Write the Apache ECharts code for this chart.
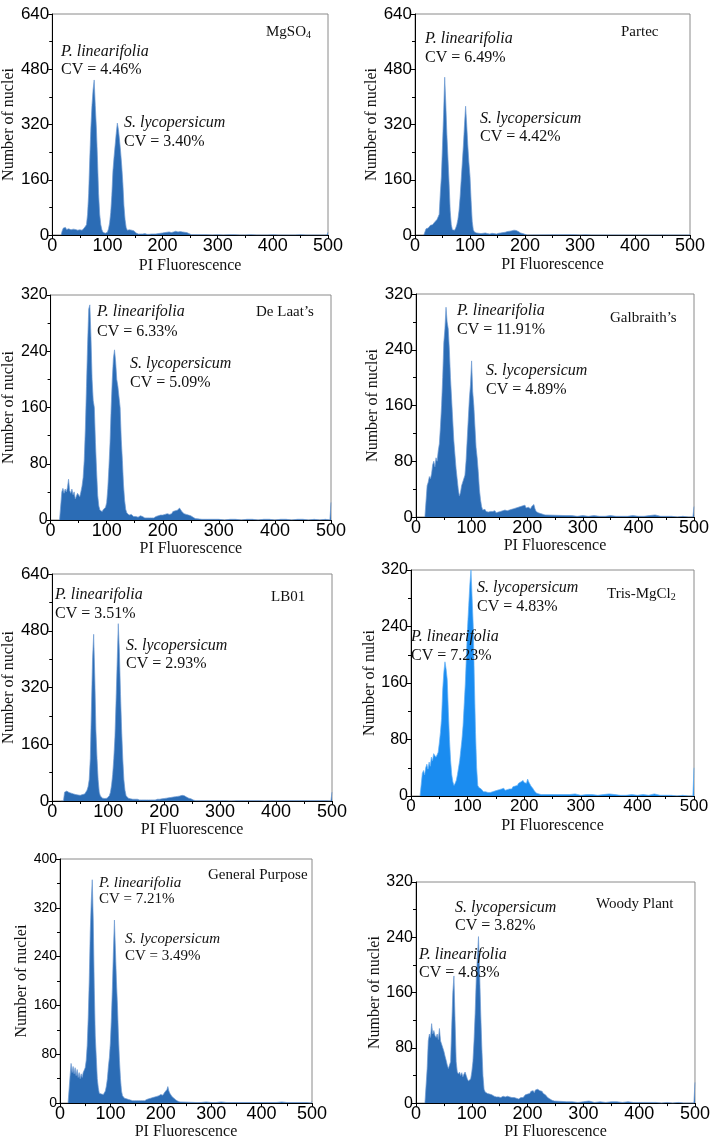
<!DOCTYPE html>
<html><head><meta charset="utf-8">
<script src="https://cdn.jsdelivr.net/npm/echarts@6/dist/echarts.min.js"></script>
<style>html,body{margin:0;padding:0;background:#fff}#c{width:713px;height:1141px}</style>
</head><body><div id="c"></div><script>
// ---- data: PI fluorescence channels ----
const channelStart = 16, channelStep = 2;
const tailChannels = [270,280,290,300,310,320,330,340,350,360,370,380,390,400,410,420,430,440,450,460,470,480,490,498,500];
const xTicks = [0,100,200,300,400,500];

const mgso4Counts = [0,12,20,18,22,16,20,18,21,15,19,17,20,16,18,14,17,15,19,14,18,20,22,30,60,120,220,310,375,420,449,375,310,220,120,60,30,15,8,6,5,6,8,18,35,65,115,185,225,260,295,324,305,275,240,200,150,85,45,22,14,13,15,15,14,16,12,10,6,4,3,4,3,2,3,2,4,3,2,3,2,4,3,5,3,4,3,5,4,6,5,4,6,5,7,6,8,7,9,8,7,10,9,8,11,10,9,12,10,11,9,10,8,9,7,6,4,2,1,0];
const mgso4Tail = [1,1,0,1,0,1,1,0,0,1,0,0,0,1,0,0,0,0,1,0,0,0,0,0,8];

const partecCounts = [0,0,18,22,20,25,28,26,30,33,38,42,45,52,60,120,170,260,350,457,380,290,220,150,70,30,15,12,14,20,30,45,70,110,160,210,260,320,373,320,260,210,170,100,40,15,9,9,6,7,5,6,4,6,5,4,6,5,4,5,3,4,5,3,4,5,3,4,5,4,6,5,7,6,8,7,10,8,11,9,12,10,14,11,13,9,10,7,6,5,4,3,2,1,0];
const partecTail = [1,1,1,0,1,0,0,0,0,0,0,0,0,0,0,0,0,0,0,0,0,0,0,0,2];

const delaatCounts = [0,0,40,45,38,44,40,46,58,42,38,44,36,40,30,34,38,36,33,40,48,60,85,130,190,250,300,306,260,200,170,160,110,70,35,20,14,13,12,15,14,18,25,45,75,110,160,200,230,242,225,200,190,175,160,115,85,50,28,15,10,8,7,6,8,6,5,7,5,6,4,5,6,4,5,4,3,4,3,4,3,4,3,4,3,4,5,4,6,5,7,8,7,9,8,10,9,11,8,10,9,12,10,13,11,14,12,17,15,12,10,9,11,8,10,7,8,6,5,4,3,2,2];
const delaatTail = [1,1,1,1,0,1,1,0,1,1,0,1,1,0,1,1,0,1,1,0,1,0,1,0,25];

const galbraithCounts = [0,0,45,50,58,55,62,75,80,72,85,80,95,105,130,160,200,250,270,301,280,270,240,200,170,140,110,90,70,55,40,30,35,45,50,52,60,80,110,140,170,190,224,180,160,130,100,85,65,40,25,15,10,9,11,8,10,7,9,8,6,8,7,9,6,8,7,9,8,10,9,11,10,12,9,11,10,12,11,9,12,10,13,11,14,12,15,13,16,14,17,13,15,14,16,12,15,13,18,12,8,7,6,5,5,4,4,3,3,2];
const galbraithTail = [2,2,1,2,1,2,1,1,2,1,1,1,2,1,1,2,3,1,1,1,0,1,0,0,15];

const lb01Counts = [0,0,0,25,30,28,26,24,27,22,25,20,23,18,22,17,21,16,20,18,22,20,25,30,40,60,120,260,400,470,350,200,120,60,25,14,10,8,9,7,10,8,12,15,25,45,75,120,180,280,390,500,420,300,200,120,60,30,15,10,8,7,6,7,5,6,5,4,5,4,3,4,3,4,3,4,3,4,3,4,3,4,3,4,3,4,5,4,5,4,6,5,7,6,8,7,9,8,10,9,11,10,12,11,13,12,14,13,16,14,15,13,11,10,8,7,6,4,3,2,1];
const lb01Tail = [1,1,1,1,1,0,1,1,1,1,1,0,1,1,1,1,1,1,1,1,1,1,1,0,25];

const trisCounts = [0,0,32,36,30,40,45,38,48,42,55,50,60,62,55,58,62,75,90,110,150,175,190,180,165,120,80,50,30,20,15,18,22,30,40,50,65,80,100,130,160,200,240,270,300,320,280,240,160,90,40,15,12,14,10,8,6,5,6,4,5,6,5,7,6,8,7,9,8,10,9,8,10,9,11,8,10,9,11,10,12,10,13,12,14,16,15,18,17,20,18,22,19,21,18,24,20,17,14,12,10,7,5,4,3,3,2,2];
const trisTail = [2,2,3,1,2,2,1,2,3,2,1,1,2,1,2,1,3,1,1,1,0,1,0,0,40];

const generalCounts = [0,0,45,65,50,60,48,58,45,55,42,50,40,48,42,50,52,58,70,95,140,200,280,330,366,300,190,110,75,40,25,16,18,15,17,14,16,20,28,40,60,75,100,140,190,250,300,250,200,160,110,70,40,20,12,10,8,9,7,8,6,7,5,6,4,5,4,3,4,3,4,3,4,3,4,5,4,5,6,5,7,6,8,7,9,8,10,9,11,10,12,11,14,12,13,16,18,20,22,27,20,16,13,11,9,8,6,5,4,3,2,2,1];
const generalTail = [1,1,2,1,1,2,1,1,1,1,1,1,1,1,1,1,1,2,1,1,1,1,1,0,3];

const woodyCounts = [0,0,50,90,100,95,115,100,105,98,95,100,92,108,90,85,80,75,68,62,55,50,48,60,110,160,184,120,60,45,42,45,40,44,38,42,45,40,35,32,30,35,45,60,90,130,180,210,241,190,130,80,40,20,16,15,14,16,13,14,12,13,10,11,9,10,9,10,8,9,10,8,9,8,10,8,9,7,8,7,8,6,7,8,6,7,8,9,8,10,12,11,13,15,14,17,16,18,15,19,17,20,22,18,16,17,14,13,12,10,8,7,6,5,4,3,3,2];
const woodyTail = [2,2,1,2,3,1,2,1,2,2,1,2,1,1,1,1,1,0,1,0,1,0,0,0,30];

const yMaxes = [640,640,320,320,640,320,400,320];
const yIntervals = [160,160,80,80,160,80,80,80];
const yNames = ['Number of nuclei','Number of nuclei','Number of nuclei','Number of nuclei','Number of nuclei','Number of nulei','Number of nuclei','Number of nuclei'];
const bufferNames = ['MgSO|4','Partec','De Laat\u2019s','Galbraith\u2019s','LB01','Tris-MgCl|2','General Purpose','Woody Plant'];
const species = [
  ['P. linearifolia','CV = 4.46%','S. lycopersicum','CV = 3.40%'],
  ['P. linearifolia','CV = 6.49%','S. lycopersicum','CV = 4.42%'],
  ['P. linearifolia','CV = 6.33%','S. lycopersicum','CV = 5.09%'],
  ['P. linearifolia','CV = 11.91%','S. lycopersicum','CV = 4.89%'],
  ['P. linearifolia','CV = 3.51%','S. lycopersicum','CV = 2.93%'],
  ['P. linearifolia','CV = 7.23%','S. lycopersicum','CV = 4.83%'],
  ['P. linearifolia','CV = 7.21%','S. lycopersicum','CV = 3.49%'],
  ['P. linearifolia','CV = 4.83%','S. lycopersicum','CV = 3.82%']
];
const countSets = [mgso4Counts,partecCounts,delaatCounts,galbraithCounts,lb01Counts,trisCounts,generalCounts,woodyCounts];
const tailSets = [mgso4Tail,partecTail,delaatTail,galbraithTail,lb01Tail,trisTail,generalTail,woodyTail];

// ---- layout (pixels) ----
const grids = [
  {left:49, top:14, width:279, height:221, yFont:17, xFont:18, yGap:29, xGap:23},
  {left:415,top:14, width:275, height:221, yFont:17, xFont:18, yGap:31, xGap:22},
  {left:50, top:295,width:281, height:225, yFont:16, xFont:18, yGap:30, xGap:18},
  {left:416,top:294,width:278, height:223, yFont:17, xFont:18, yGap:30, xGap:17},
  {left:51, top:574,width:281, height:227, yFont:17, xFont:18, yGap:30, xGap:18},
  {left:411,top:570,width:283, height:226, yFont:16, xFont:17, yGap:32, xGap:22},
  {left:60, top:859,width:252, height:249, yFont:14, xFont:18, yGap:27, xGap:15},
  {left:416,top:882,width:279, height:223, yFont:16, xFont:18, yGap:29, xGap:16}
];
const textPos = [
  {p:[61,52,70], s:[124,123,142], b:[266,32], fs:16},
  {p:[425,39,58], s:[480,119,137], b:[621,32], fs:16},
  {p:[97,312,332], s:[130,364,383], b:[256,312], fs:16},
  {p:[457,311,330], s:[486,371,390], b:[610,318], fs:16},
  {p:[55,595,614], s:[126,646,664], b:[271,597], fs:16},
  {p:[411,637,656], s:[477,588,607], b:[607,594], fs:16},
  {p:[99,883,899], s:[125,939,956], b:[208,875], fs:15},
  {p:[419,955,973], s:[455,908,926], b:[596,904], fs:16}
];
const fills = ['#2b6cb5','#2b6cb5','#2b6cb5','#2b6cb5','#2b6cb5','#1a8cf0','#2b6cb5','#2b6cb5'];
const edges = ['#6f9bd3','#6f9bd3','#6f9bd3','#6f9bd3','#6f9bd3','#62b0f6','#6f9bd3','#6f9bd3'];

const SERIF = '"Liberation Serif","Times New Roman",serif';
const SANS = '"Liberation Sans",Arial,sans-serif';

const option = {animation:false, grid:[], xAxis:[], yAxis:[], series:[], graphic:[]};
grids.forEach((g,i)=>{
  option.grid.push({left:g.left, top:g.top, width:g.width, height:g.height, show:true, borderColor:'#8a8a8a', borderWidth:1, backgroundColor:'transparent'});
  option.xAxis.push({type:'value', gridIndex:i, min:xTicks[0], max:xTicks[xTicks.length-1], interval:xTicks[1]-xTicks[0],
    name:'PI Fluorescence', nameLocation:'middle', nameGap:g.xGap,
    nameTextStyle:{fontFamily:SERIF, fontSize:16, color:'#111'},
    axisLine:{show:true, onZero:false, lineStyle:{color:'#000', width:1}},
    axisTick:{show:true, length:4, lineStyle:{color:'#000'}},
    minorTick:{show:true, splitNumber:2, length:3, lineStyle:{color:'#000'}},
    splitLine:{show:false},
    axisLabel:{fontFamily:SANS, fontSize:g.xFont, color:'#000', margin:2}});
  option.yAxis.push({type:'value', gridIndex:i, min:0, max:yMaxes[i], interval:yIntervals[i],
    name:yNames[i], nameLocation:'middle', nameGap:g.yGap,
    nameTextStyle:{fontFamily:SERIF, fontSize:16, color:'#111'},
    axisLine:{show:true, lineStyle:{color:'#000', width:1}},
    axisTick:{show:true, length:4, lineStyle:{color:'#000'}},
    minorTick:{show:true, splitNumber:2, length:3, lineStyle:{color:'#000'}},
    splitLine:{show:false},
    axisLabel:{fontFamily:SANS, fontSize:g.yFont, color:'#000', margin:3}});
  const data = countSets[i].map((v,k)=>[channelStart+channelStep*k, v])
    .concat(tailSets[i].map((v,k)=>[tailChannels[k], v]));
  option.series.push({type:'line', xAxisIndex:i, yAxisIndex:i, data:data, showSymbol:false, symbol:'none',
    silent:true, sampling:null, z:2,
    lineStyle:{color:edges[i], width:0.7}, areaStyle:{color:fills[i], opacity:1}});

  const t = textPos[i], fs = t.fs, sp = species[i];
  const mk = (x,y,text,italic)=>({type:'text', x:x, y:y, z:100, silent:true,
    style:{text:text, font:(italic?'italic ':'')+fs+'px '+SERIF, fill:'#111', verticalAlign:'middle', textVerticalAlign:'middle', align:'left'}});
  option.graphic.push(mk(t.p[0],t.p[1],sp[0],true));
  option.graphic.push(mk(t.p[0],t.p[2],sp[1],false));
  option.graphic.push(mk(t.s[0],t.s[1],sp[2],true));
  option.graphic.push(mk(t.s[0],t.s[2],sp[3],false));
  const bn = bufferNames[i].split('|');
  if (bn.length>1){
    option.graphic.push({type:'text', x:t.b[0], y:t.b[1], z:100, silent:true,
      style:{text:'{a|'+bn[0]+'}{b|'+bn[1]+'}', verticalAlign:'middle', align:'left',
        rich:{a:{fontFamily:SERIF, fontSize:15, fill:'#111', color:'#111'}, b:{fontFamily:SERIF, fontSize:10, fill:'#111', color:'#111', padding:[6,0,0,0]}}}});
  } else {
    option.graphic.push({type:'text', x:t.b[0], y:t.b[1], z:100, silent:true,
      style:{text:bn[0], font:'15px '+SERIF, fill:'#111', verticalAlign:'middle', align:'left'}});
  }
});
const chart = echarts.init(document.getElementById('c'), null, {renderer:'canvas'});
chart.setOption(option);
</script></body></html>
